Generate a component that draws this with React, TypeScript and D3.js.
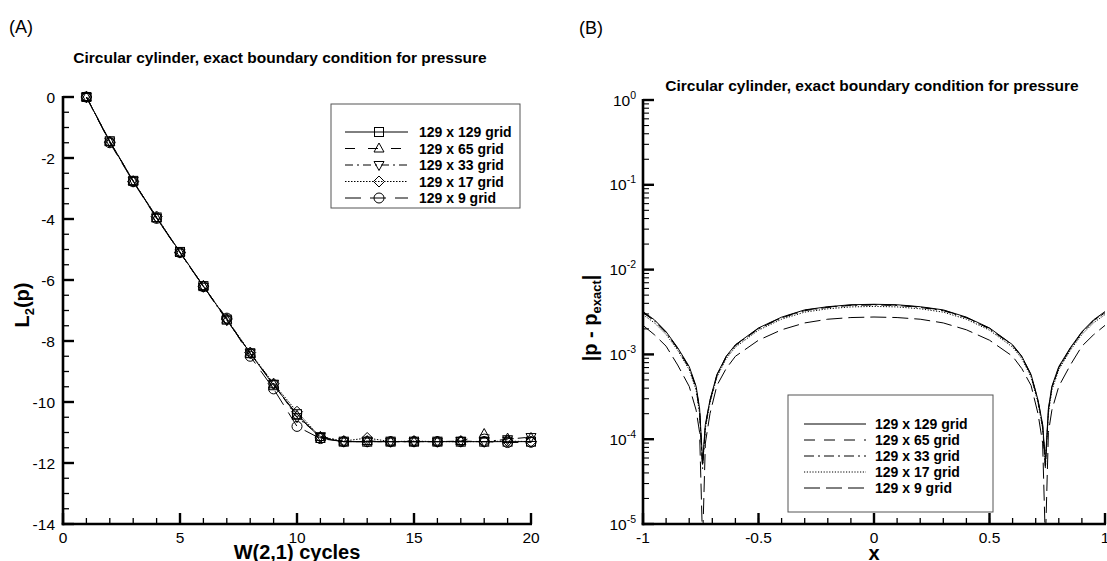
import React from "react";
import * as d3 from "d3";

// ---------- Panel A data ----------
const cycles = [1, 2, 3, 4, 5, 6, 7, 8, 9, 10, 11, 12, 13, 14, 15, 16, 17, 18, 19, 20];
const l2g129 = [0, -1.45, -2.75, -3.95, -5.08, -6.2, -7.3, -8.4, -9.45, -10.4, -11.18, -11.3, -11.3, -11.3, -11.3, -11.3, -11.3, -11.3, -11.3, -11.3];
const l2g65 = [0, -1.47, -2.76, -3.97, -5.1, -6.2, -7.3, -8.42, -9.42, -10.45, -11.15, -11.3, -11.28, -11.3, -11.3, -11.3, -11.28, -11.05, -11.2, -11.18];
const l2g33 = [0, -1.46, -2.75, -3.96, -5.1, -6.22, -7.32, -8.4, -9.4, -10.5, -11.12, -11.3, -11.3, -11.3, -11.3, -11.3, -11.28, -11.3, -11.22, -11.15];
const l2g17 = [0, -1.48, -2.77, -3.92, -5.1, -6.2, -7.28, -8.38, -9.4, -10.32, -11.15, -11.28, -11.18, -11.3, -11.28, -11.3, -11.3, -11.3, -11.28, -11.3];
const l2g9 = [0, -1.5, -2.78, -3.98, -5.1, -6.22, -7.25, -8.5, -9.57, -10.8, -11.2, -11.3, -11.3, -11.3, -11.3, -11.3, -11.3, -11.3, -11.33, -11.32];

const seriesNames = ["129 x 129 grid", "129 x 65 grid", "129 x 33 grid", "129 x 17 grid", "129 x 9 grid"];
const leftXTicks = [0, 5, 10, 15, 20];
const leftYTicks = [0, -2, -4, -6, -8, -10, -12, -14];

// ---------- Panel B data ----------
const xPos = [-1, -0.95, -0.9, -0.85, -0.8, -0.77, -0.755, -0.742, -0.73, -0.71, -0.68, -0.64, -0.6, -0.5, -0.4, -0.3, -0.2, -0.1, 0,
  0.1, 0.2, 0.3, 0.4, 0.5, 0.6, 0.64, 0.68, 0.71, 0.73, 0.742, 0.755, 0.77, 0.8, 0.85, 0.9, 0.95, 1];
const errG129 = [3.2e-3, 2.55e-3, 1.85e-3, 1.2e-3, 7.2e-4, 4.2e-4, 2.3e-4, 5.5e-5, 1.5e-4, 2.9e-4, 5.8e-4, 9.5e-4, 1.3e-3, 2.05e-3, 2.75e-3, 3.35e-3, 3.65e-3, 3.85e-3, 3.9e-3,
  3.85e-3, 3.65e-3, 3.35e-3, 2.75e-3, 2.05e-3, 1.3e-3, 9.5e-4, 5.8e-4, 2.9e-4, 1.5e-4, 5.5e-5, 2.3e-4, 4.2e-4, 7.2e-4, 1.2e-3, 1.85e-3, 2.55e-3, 3.2e-3];
const errG65 = [3.15e-3, 2.5e-3, 1.83e-3, 1.18e-3, 7.0e-4, 4.1e-4, 2.2e-4, 4.8e-5, 1.45e-4, 2.85e-4, 5.7e-4, 9.4e-4, 1.29e-3, 2.03e-3, 2.72e-3, 3.32e-3, 3.62e-3, 3.82e-3, 3.87e-3,
  3.82e-3, 3.62e-3, 3.32e-3, 2.72e-3, 2.03e-3, 1.29e-3, 9.4e-4, 5.7e-4, 2.85e-4, 1.45e-4, 4.8e-5, 2.2e-4, 4.1e-4, 7.0e-4, 1.18e-3, 1.83e-3, 2.5e-3, 3.15e-3];
const errG33 = [3.1e-3, 2.48e-3, 1.8e-3, 1.17e-3, 6.9e-4, 4.0e-4, 2.1e-4, 4.5e-5, 1.4e-4, 2.8e-4, 5.6e-4, 9.3e-4, 1.27e-3, 2.0e-3, 2.7e-3, 3.28e-3, 3.58e-3, 3.78e-3, 3.83e-3,
  3.78e-3, 3.58e-3, 3.28e-3, 2.7e-3, 2.0e-3, 1.27e-3, 9.3e-4, 5.6e-4, 2.8e-4, 1.4e-4, 4.5e-5, 2.1e-4, 4.0e-4, 6.9e-4, 1.17e-3, 1.8e-3, 2.48e-3, 3.1e-3];
const errG17 = [2.95e-3, 2.35e-3, 1.72e-3, 1.12e-3, 6.6e-4, 3.8e-4, 2.0e-4, 5.0e-5, 1.35e-4, 2.7e-4, 5.4e-4, 8.9e-4, 1.22e-3, 1.93e-3, 2.6e-3, 3.15e-3, 3.45e-3, 3.63e-3, 3.68e-3,
  3.63e-3, 3.45e-3, 3.15e-3, 2.6e-3, 1.93e-3, 1.22e-3, 8.9e-4, 5.4e-4, 2.7e-4, 1.35e-4, 5.0e-5, 2.0e-4, 3.8e-4, 6.6e-4, 1.12e-3, 1.72e-3, 2.35e-3, 2.95e-3];
const errG9 = [2.2e-3, 1.7e-3, 1.25e-3, 7.5e-4, 4.2e-4, 2.2e-4, 1.2e-4, 6e-6, 9e-5, 2.0e-4, 4.3e-4, 6.8e-4, 9.5e-4, 1.47e-3, 1.95e-3, 2.35e-3, 2.6e-3, 2.72e-3, 2.76e-3,
  2.72e-3, 2.6e-3, 2.35e-3, 1.95e-3, 1.47e-3, 9.5e-4, 6.8e-4, 4.3e-4, 2.0e-4, 9e-5, 6e-6, 1.2e-4, 2.2e-4, 4.2e-4, 7.5e-4, 1.25e-3, 1.7e-3, 2.2e-3];

const rightXTicks = [-1, -0.5, 0, 0.5, 1];
const rightYExps = [0, -1, -2, -3, -4, -5];

const FONT = "'Liberation Sans', Arial, Helvetica, sans-serif";

const leftDash = ["none", "10,13", "8,4,2,4", "1.5,1.5", "16,9"];
const rightDash = ["none", "11,9", "10,4,2,4", "1.2,1.6", "16,6"];
const markerTypes = ["square", "triUp", "triDown", "diamond", "circle"];

function Marker({ type, x, y }: { type: string; x: number; y: number }) {
  const s = 4.5;
  const common = { fill: "none", stroke: "#000", strokeWidth: 1 };
  if (type === "square") return <rect x={x - s} y={y - s} width={2 * s} height={2 * s} {...common} />;
  if (type === "circle") return <circle cx={x} cy={y} r={5} {...common} />;
  if (type === "triUp")
    return <path d={`M${x},${y - 5.5}L${x + 5},${y + 3.5}L${x - 5},${y + 3.5}Z`} {...common} />;
  if (type === "triDown")
    return <path d={`M${x},${y + 5.5}L${x + 5},${y - 3.5}L${x - 5},${y - 3.5}Z`} {...common} />;
  return <path d={`M${x},${y - 5.5}L${x + 5.5},${y}L${x},${y + 5.5}L${x - 5.5},${y}Z`} {...common} />;
}

export default function App() {
  // Panel A scales
  const xL = d3.scaleLinear().domain([0, 20]).range([63, 531]);
  const yL = d3.scaleLinear().domain([-14, 0]).range([524, 97]);
  // Panel B scales
  const xR = d3.scaleLinear().domain([-1, 1]).range([643, 1105]);
  const yR = d3.scaleLog().domain([1e-5, 1]).range([524, 100]);

  const leftSeries = [l2g129, l2g65, l2g33, l2g17, l2g9];
  const rightSeries = [errG129, errG65, errG33, errG17, errG9];

  const lineL = d3
    .line<number>()
    .x((_, i) => xL(cycles[i]))
    .y((d) => yL(d));
  const lineR = d3
    .line<number>()
    .x((_, i) => xR(xPos[i]))
    .y((d) => yR(d));

  const minorLX = d3.range(0, 21, 1);
  const minorLY = d3.range(-14, 0.001, 0.5);
  const minorRX = d3.range(-10, 11, 1).map((v) => v / 10);
  const minorRY: number[] = [];
  for (let e = -5; e < 0; e++) for (let k = 2; k <= 9; k++) minorRY.push(k * Math.pow(10, e));

  const fmt = (v: number) => (v === 0 ? "0" : String(v));

  return (
    <svg
      width={1107}
      height={561}
      style={{ position: "absolute", left: 0, top: 0, background: "#fff" }}
      fontFamily={FONT}
    >
      <rect x={0} y={0} width={1107} height={561} fill="#fff" />
      {/* Panel labels */}
      <text x={9} y={33} fontSize={18}>(A)</text>
      <text x={579} y={34} fontSize={18}>(B)</text>

      {/* ================= Panel A ================= */}
      <text x={280} y={63} fontSize={15.5} fontWeight="bold" textAnchor="middle">
        Circular cylinder, exact boundary condition for pressure
      </text>

      {/* axes */}
      <g stroke="#000">
        {minorLX.map((v) => (
          <line key={"lxm" + v} x1={xL(v)} x2={xL(v)} y1={yL(-14)} y2={yL(-14) - 6} strokeWidth={1.3} />
        ))}
        {leftXTicks.map((v) => (
          <line key={"lxM" + v} x1={xL(v)} x2={xL(v)} y1={yL(-14)} y2={yL(-14) - 11} strokeWidth={2.4} />
        ))}
        {minorLY.map((v) => (
          <line key={"lym" + v} x1={xL(0)} x2={xL(0) + 6} y1={yL(v)} y2={yL(v)} strokeWidth={1.3} />
        ))}
        {leftYTicks.map((v) => (
          <line key={"lyM" + v} x1={xL(0)} x2={xL(0) + 11} y1={yL(v)} y2={yL(v)} strokeWidth={2.4} />
        ))}
        <line x1={xL(0)} x2={xL(0)} y1={yL(0) - 1} y2={yL(-14) + 1.3} strokeWidth={2.6} />
        <line x1={xL(0) - 1.3} x2={xL(20) + 1} y1={yL(-14)} y2={yL(-14)} strokeWidth={2.6} />
      </g>
      {leftXTicks.map((v) => (
        <text key={"lxt" + v} x={xL(v)} y={543} fontSize={15.5} textAnchor="middle">
          {fmt(v)}
        </text>
      ))}
      {leftYTicks.map((v) => (
        <text key={"lyt" + v} x={55} y={yL(v) + 5.5} fontSize={15.5} textAnchor="end">
          {fmt(v)}
        </text>
      ))}
      <text x={297} y={559} fontSize={20} fontWeight="bold" textAnchor="middle">
        W(2,1) cycles
      </text>
      <text transform="translate(29,305) rotate(-90)" fontSize={20} fontWeight="bold" textAnchor="middle">
        L<tspan fontSize={13} dy={5}>2</tspan>
        <tspan dy={-5}>(p)</tspan>
      </text>

      {/* curves */}
      {leftSeries.map((s, si) => (
        <g key={"ls" + si}>
          <path d={lineL(s) || ""} fill="none" stroke="#000" strokeWidth={1} strokeDasharray={leftDash[si]} />
          {s.map((v, i) => (
            <Marker key={i} type={markerTypes[si]} x={xL(cycles[i])} y={yL(v)} />
          ))}
        </g>
      ))}

      {/* legend A */}
      <rect x={331} y={104} width={189} height={104} fill="#fff" stroke="#555" strokeWidth={1} />
      {seriesNames.map((n, i) => {
        const cy = 132 + i * 16.5;
        return (
          <g key={"lgA" + i}>
            <line x1={345} x2={408} y1={cy} y2={cy} stroke="#000" strokeWidth={1} strokeDasharray={leftDash[i]} />
            <Marker type={markerTypes[i]} x={379} y={cy} />
            <text x={419} y={cy + 5} fontSize={14} fontWeight="bold">
              {n}
            </text>
          </g>
        );
      })}

      {/* ================= Panel B ================= */}
      <text x={872} y={91} fontSize={15.5} fontWeight="bold" textAnchor="middle">
        Circular cylinder, exact boundary condition for pressure
      </text>
      <defs>
        <clipPath id="clipB">
          <rect x={643} y={100} width={462} height={424} />
        </clipPath>
      </defs>
      <g clipPath="url(#clipB)">
        {rightSeries.map((s, si) => (
          <path
            key={"rs" + si}
            d={lineR(s) || ""}
            fill="none"
            stroke="#000"
            strokeWidth={1}
            strokeDasharray={rightDash[si]}
          />
        ))}
      </g>

      <g stroke="#000">
        {minorRX.map((v) => (
          <line key={"rxm" + v} x1={xR(v)} x2={xR(v)} y1={yR(1e-5)} y2={yR(1e-5) - 6} strokeWidth={1.3} />
        ))}
        {rightXTicks.map((v) => (
          <line key={"rxM" + v} x1={xR(v)} x2={xR(v)} y1={yR(1e-5)} y2={yR(1e-5) - 11} strokeWidth={2.4} />
        ))}
        {minorRY.map((v) => (
          <line key={"rym" + v} x1={xR(-1)} x2={xR(-1) + 6} y1={yR(v)} y2={yR(v)} strokeWidth={1.1} />
        ))}
        {rightYExps.map((e) => (
          <line key={"ryM" + e} x1={xR(-1)} x2={xR(-1) + 11} y1={yR(Math.pow(10, e))} y2={yR(Math.pow(10, e))} strokeWidth={2.4} />
        ))}
        <line x1={xR(-1)} x2={xR(-1)} y1={yR(1) - 1} y2={yR(1e-5) + 1.3} strokeWidth={2.6} />
        <line x1={xR(-1) - 1.3} x2={xR(1) + 1} y1={yR(1e-5)} y2={yR(1e-5)} strokeWidth={2.6} />
      </g>
      {rightXTicks.map((v) => (
        <text key={"rxt" + v} x={xR(v)} y={543} fontSize={15.5} textAnchor="middle">
          {fmt(v)}
        </text>
      ))}
      {rightYExps.map((e) => (
        <text key={"ryt" + e} x={636} y={yR(Math.pow(10, e)) + 5.5} fontSize={15.5} textAnchor="end">
          10<tspan fontSize={10.5} dy={-7}>{String(e)}</tspan>
        </text>
      ))}
      <text x={874} y={560} fontSize={20} fontWeight="bold" textAnchor="middle">
        x
      </text>
      <text transform="translate(597,318) rotate(-90)" fontSize={20} fontWeight="bold" textAnchor="middle">
        |p - p<tspan fontSize={13} dy={4}>exact</tspan>
        <tspan dy={-4}>|</tspan>
      </text>

      {/* legend B */}
      <rect x={788} y={395} width={205} height={117} fill="#fff" stroke="#555" strokeWidth={1} />
      {seriesNames.map((n, i) => {
        const cy = 424 + i * 16;
        return (
          <g key={"lgB" + i}>
            <line x1={804} x2={866} y1={cy} y2={cy} stroke="#000" strokeWidth={1} strokeDasharray={rightDash[i]} />
            <text x={875} y={cy + 5} fontSize={14} fontWeight="bold">
              {n}
            </text>
          </g>
        );
      })}
    </svg>
  );
}
